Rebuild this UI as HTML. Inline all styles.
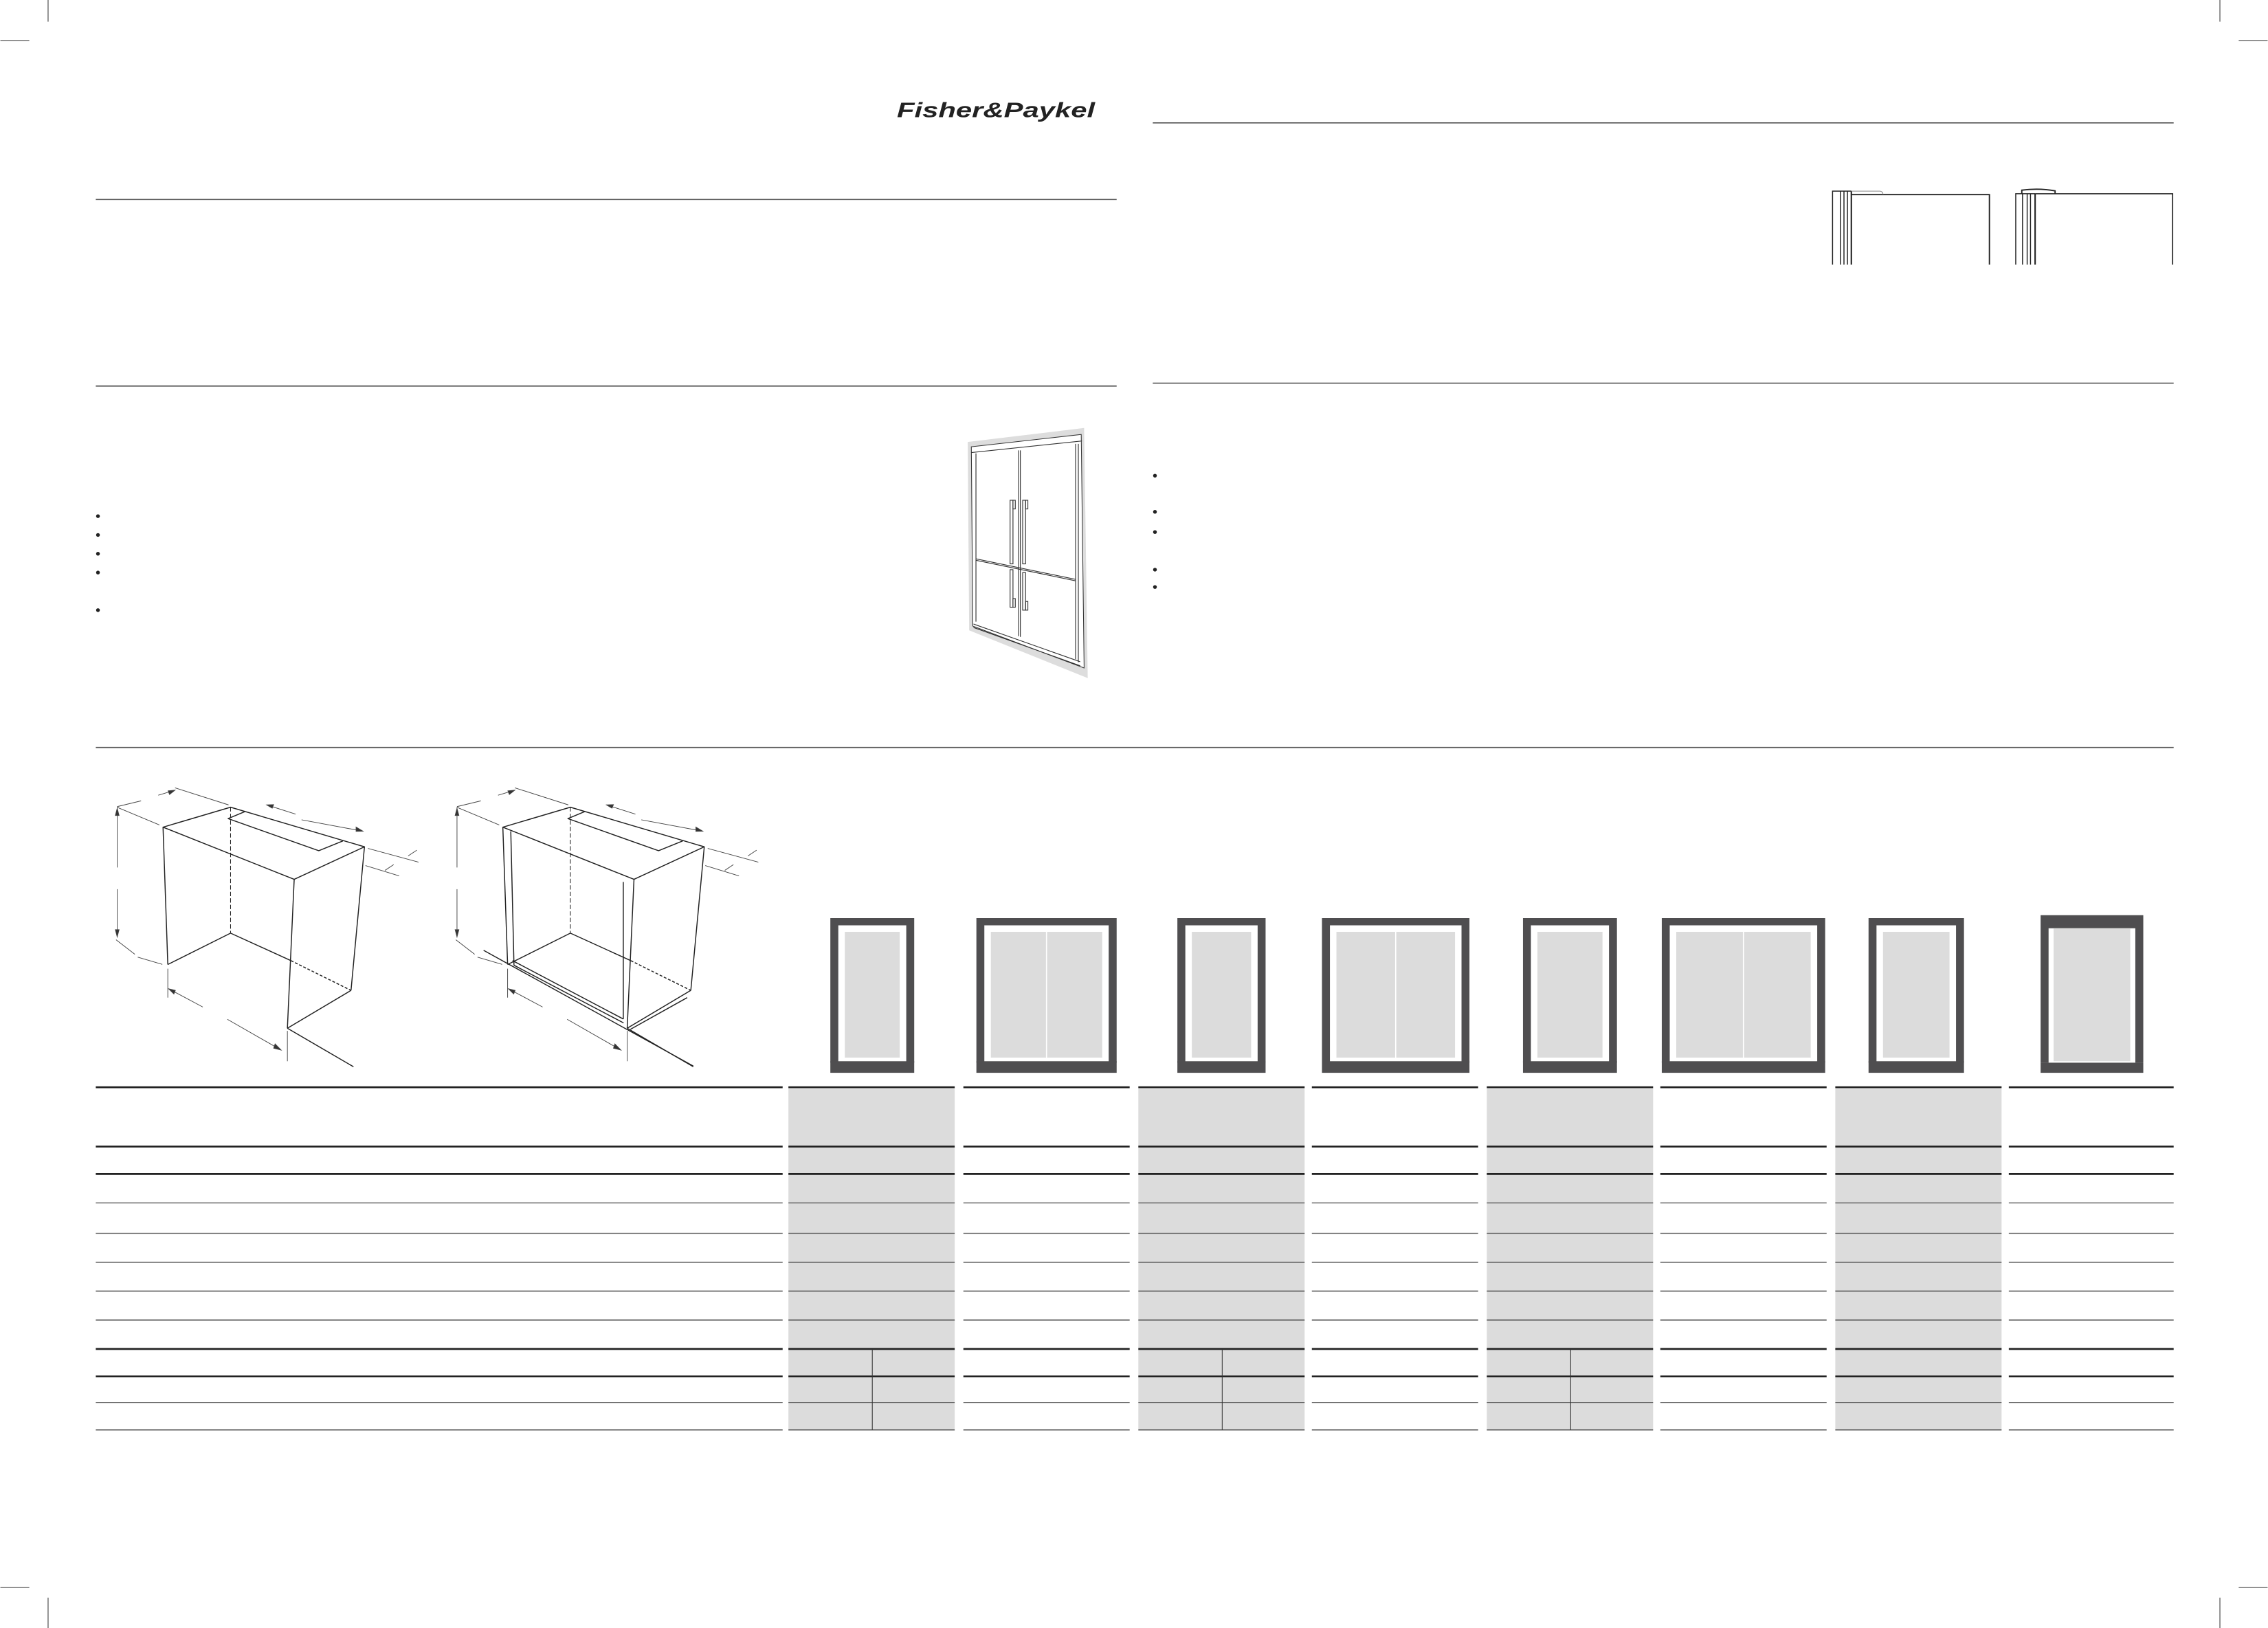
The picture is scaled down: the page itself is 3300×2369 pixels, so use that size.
<!DOCTYPE html>
<html><head><meta charset="utf-8"><style>html,body{margin:0;padding:0;background:#fff}svg{display:block}</style></head>
<body>
<svg width="3300" height="2369" viewBox="0 0 1568 1126" xmlns="http://www.w3.org/2000/svg">
<rect width="1568" height="1126" fill="#fff"/>
<!-- crop marks -->
<g stroke="#555" stroke-width="0.6">
<line x1="0" y1="28" x2="20" y2="28"/><line x1="33" y1="0" x2="33" y2="15"/>
<line x1="1548" y1="28" x2="1568" y2="28"/><line x1="1535" y1="0" x2="1535" y2="15"/>
<line x1="0" y1="1098" x2="20" y2="1098"/><line x1="33" y1="1105" x2="33" y2="1126"/>
<line x1="1548" y1="1098" x2="1568" y2="1098"/><line x1="1535" y1="1105" x2="1535" y2="1126"/>
</g>
<!-- logo -->
<text x="620" y="81" font-family="Liberation Sans, sans-serif" font-weight="bold" font-style="italic" font-size="14.5" textLength="137" lengthAdjust="spacingAndGlyphs" fill="#222">Fisher&amp;Paykel</text>
<!-- section rules -->
<g stroke="#555" stroke-width="0.8">
<line x1="797" y1="85" x2="1503" y2="85"/>
<line x1="66" y1="138" x2="772" y2="138"/>
<line x1="66" y1="267" x2="772" y2="267"/>
<line x1="797" y1="265" x2="1503" y2="265"/>
<line x1="66" y1="517" x2="1503" y2="517"/>
</g>
<!-- side views -->
<g stroke="#222" stroke-width="0.7" fill="none">
<path d="M1267.1,183 V132.2 H1280.1"/><line x1="1272.6" y1="132.2" x2="1272.6" y2="183"/><line x1="1275" y1="132.2" x2="1275" y2="183"/><line x1="1277.4" y1="132.2" x2="1277.4" y2="183"/><line x1="1280.1" y1="132.2" x2="1280.1" y2="183" stroke-width="1"/>
<path d="M1280.1,134.6 H1375.6 V183" stroke-width="0.9"/>
<path d="M1280.1,132.2 H1300 Q1302,132.5 1302,134.6" stroke="#888" stroke-width="0.5"/>
<path d="M1393.8,183 V134 H1407.2"/><line x1="1398.5" y1="134" x2="1398.5" y2="183"/><line x1="1401.7" y1="134" x2="1401.7" y2="183"/><line x1="1404" y1="134" x2="1404" y2="183"/><line x1="1407.2" y1="134" x2="1407.2" y2="183" stroke-width="1"/>
<path d="M1407.2,134 H1502.3 V183" stroke-width="0.8"/>
<path d="M1398,134 V131.5 Q1410,130 1421,132 L1421,134" stroke-width="0.9"/>
</g>
<!-- bullets -->
<g fill="#222">
<circle cx="67.5" cy="357" r="1.3"/><circle cx="67.5" cy="370" r="1.3"/><circle cx="67.5" cy="383" r="1.3"/><circle cx="67.5" cy="396" r="1.3"/><circle cx="67.5" cy="422" r="1.3"/>
<circle cx="798.5" cy="329" r="1.3"/><circle cx="798.5" cy="354" r="1.3"/><circle cx="798.5" cy="368" r="1.3"/><circle cx="798.5" cy="394" r="1.3"/><circle cx="798.5" cy="406" r="1.3"/>
</g>
<!-- fridge illustration -->
<polygon points="669,305.7 749.5,296 752,469 670,436" fill="#ddd"/>
<polygon points="671.5,309 747.5,300.5 749.5,462 672.5,433" fill="#fff" stroke="#333" stroke-width="0.5"/>
<g stroke="#333" stroke-width="0.55" fill="none">
<line x1="671.5" y1="313" x2="748" y2="305"/>
<line x1="674.7" y1="313.6" x2="674.7" y2="430"/>
<line x1="743.6" y1="307" x2="743.6" y2="456"/>
<line x1="745.5" y1="307" x2="745.5" y2="458"/>
<line x1="704.2" y1="311.5" x2="704.2" y2="440"/><line x1="705.4" y1="311.5" x2="705.4" y2="440.5"/>
<line x1="674.7" y1="386.5" x2="743.6" y2="400.7"/><line x1="674.7" y1="387.5" x2="743.6" y2="401.7"/>
<line x1="673" y1="431.6" x2="746.8" y2="457.7"/><line x1="673" y1="434" x2="746.8" y2="460.5"/>
<rect x="698.3" y="346" width="2" height="44" /><rect x="700.3" y="346" width="1.6" height="6"/>
<rect x="707" y="346" width="2" height="44"/><rect x="709" y="346" width="1.6" height="6"/>
<rect x="698.3" y="394" width="2" height="26"/><rect x="700.3" y="414" width="1.6" height="6"/>
<rect x="707" y="396" width="2" height="26"/><rect x="709" y="416" width="1.6" height="6"/>
</g>
<!-- cabinets -->
<g id="cab" stroke="#222" stroke-width="0.7" fill="none" stroke-linejoin="round">
<polygon points="112.5,572.1 159.2,558.3 251.8,585.7 203.2,608.2"/>
<polyline points="169.2,561.3 157.5,566.2 220.2,588.4 236.9,581.6"/>
<line x1="112.5" y1="572.1" x2="115.8" y2="667.1"/>
<line x1="159.2" y1="558.3" x2="159.2" y2="645.4" stroke-dasharray="3,1.5" stroke-width="0.5"/>
<line x1="159.2" y1="645.4" x2="115.8" y2="667.1"/>
<line x1="159.2" y1="645.4" x2="200.9" y2="664.4"/>
<line x1="200.9" y1="664.4" x2="242.5" y2="685" stroke-dasharray="2,1.2"/>
<line x1="203.2" y1="608.2" x2="198.5" y2="711.2"/>
<line x1="251.8" y1="585.7" x2="242.5" y2="685"/>
<line x1="242.5" y1="685" x2="198.5" y2="711.2"/>
<line x1="198.5" y1="711.2" x2="244.2" y2="737.8"/>
</g>
<g id="dims" stroke="#444" stroke-width="0.45" fill="#333">
<line x1="115.8" y1="670" x2="115.8" y2="690"/>
<line x1="198.5" y1="713" x2="198.5" y2="734"/>
<line x1="116.4" y1="683.9" x2="140" y2="696.5"/><line x1="157" y1="705" x2="194.2" y2="726.3"/>
<line x1="80.8" y1="559" x2="80.8" y2="600"/><line x1="80.8" y1="615" x2="80.8" y2="648"/>
<line x1="80.6" y1="558.3" x2="110" y2="570.6"/>
<line x1="80" y1="650" x2="93" y2="660"/><line x1="95" y1="662" x2="112" y2="667"/>
<line x1="80.8" y1="557.9" x2="97.3" y2="553.9"/>
<line x1="109.2" y1="550" x2="120.8" y2="546.5"/>
<line x1="120.8" y1="544.9" x2="157.8" y2="556.7"/>
<line x1="184.2" y1="556.7" x2="204.2" y2="563.1"/>
<line x1="208.3" y1="567" x2="250.8" y2="574.9"/>
<line x1="254.2" y1="586.8" x2="289.2" y2="596.3"/>
<line x1="252.5" y1="598.7" x2="275.8" y2="605.8"/>
<line x1="282" y1="592" x2="288" y2="588"/><line x1="266" y1="602" x2="272" y2="598"/>
<polygon points="80.8,559 79.5,564 82.1,564"/><polygon points="80.8,648 79.5,643 82.1,643"/>
<polygon points="116.4,683.9 120,687.5 121,685"/><polygon points="194.2,726.3 190,722 189,725"/>
<polygon points="120.8,546.5 116,547 117,549.5"/><polygon points="250.8,574.9 246,572 246,575"/>
<polygon points="184.2,556.7 189,556.5 188,559"/>
</g>
<use href="#cab" x="235"/>
<use href="#dims" x="235"/>
<g stroke="#222" stroke-width="0.7" fill="none">
<line x1="353" y1="575" x2="355.2" y2="667.6"/>
<line x1="430.8" y1="610" x2="430.8" y2="704.8"/>
<line x1="354.2" y1="664.4" x2="430.8" y2="704.8"/>
<line x1="355.2" y1="667.6" x2="431" y2="707.5"/>
<line x1="334.2" y1="657.3" x2="479.2" y2="737.3"/>
<line x1="435.8" y1="711.9" x2="475" y2="690"/>
</g>
<rect x="330" y="682" width="120" height="40" fill="#fff" opacity="0"/>
<!-- fridge icons -->
<g fill="#4f4e50">
<path d="M574,635H632V735H626.5V640H579.5V735H574Z"/><rect x="574" y="734" width="58" height="8"/>
<path d="M675,635H772V735H766.5V640H680.5V735H675Z"/><rect x="675" y="734" width="97" height="8"/>
<path d="M814,635H875V735H869.5V640H819.5V735H814Z"/><rect x="814" y="734" width="61" height="8"/>
<path d="M914,635H1016V735H1010.5V640H919.5V735H914Z"/><rect x="914" y="734" width="102" height="8"/>
<path d="M1053,635H1118V735H1112.5V640H1058.5V735H1053Z"/><rect x="1053" y="734" width="65" height="8"/>
<path d="M1149,635H1262V735H1256.5V640H1154.5V735H1149Z"/><rect x="1149" y="734" width="113" height="8"/>
<path d="M1292,635H1358V735H1352.5V640H1297.5V735H1292Z"/><rect x="1292" y="734" width="66" height="8"/>
<path d="M1411,633H1482V735H1476.5V642H1416.5V735H1411Z"/><rect x="1411" y="735" width="71" height="7"/>
</g>
<g fill="#dcdcdc">
<rect x="584" y="644.5" width="38" height="87"/>
<rect x="685" y="644.5" width="77" height="87"/>
<rect x="824" y="644.5" width="41" height="87"/>
<rect x="924" y="644.5" width="82" height="87"/>
<rect x="1063" y="644.5" width="45" height="87"/>
<rect x="1159" y="644.5" width="93" height="87"/>
<rect x="1302" y="644.5" width="46" height="87"/>
<rect x="1420" y="642" width="53" height="92"/>
</g>
<g stroke="#fff" stroke-width="0.8">
<line x1="723.5" y1="644" x2="723.5" y2="732"/>
<line x1="965" y1="644" x2="965" y2="732"/>
<line x1="1205.5" y1="644" x2="1205.5" y2="732"/>
</g>
<!-- table -->
<g fill="#dcdcdc">
<rect x="545" y="753" width="115" height="236"/>
<rect x="787" y="753" width="115" height="236"/>
<rect x="1028" y="753" width="115" height="236"/>
<rect x="1269" y="753" width="115" height="236"/>
</g>
<g id="rows" stroke="#222">
<g stroke-width="1.3">
<path d="M66,752H541M545,752H660M666,752H781M787,752H902M907,752H1022M1028,752H1143M1148,752H1263M1269,752H1384M1389,752H1503"/>
<path d="M66,793H541M545,793H660M666,793H781M787,793H902M907,793H1022M1028,793H1143M1148,793H1263M1269,793H1384M1389,793H1503"/>
<path d="M66,812H541M545,812H660M666,812H781M787,812H902M907,812H1022M1028,812H1143M1148,812H1263M1269,812H1384M1389,812H1503"/>
<path d="M66,933H541M545,933H660M666,933H781M787,933H902M907,933H1022M1028,933H1143M1148,933H1263M1269,933H1384M1389,933H1503"/>
<path d="M66,952H541M545,952H660M666,952H781M787,952H902M907,952H1022M1028,952H1143M1148,952H1263M1269,952H1384M1389,952H1503"/>
</g>
<g stroke-width="0.7" stroke="#555">
<path d="M66,832H541M545,832H660M666,832H781M787,832H902M907,832H1022M1028,832H1143M1148,832H1263M1269,832H1384M1389,832H1503"/>
<path d="M66,853H541M545,853H660M666,853H781M787,853H902M907,853H1022M1028,853H1143M1148,853H1263M1269,853H1384M1389,853H1503"/>
<path d="M66,873H541M545,873H660M666,873H781M787,873H902M907,873H1022M1028,873H1143M1148,873H1263M1269,873H1384M1389,873H1503"/>
<path d="M66,893H541M545,893H660M666,893H781M787,893H902M907,893H1022M1028,893H1143M1148,893H1263M1269,893H1384M1389,893H1503"/>
<path d="M66,913H541M545,913H660M666,913H781M787,913H902M907,913H1022M1028,913H1143M1148,913H1263M1269,913H1384M1389,913H1503"/>
<path d="M66,970H541M545,970H660M666,970H781M787,970H902M907,970H1022M1028,970H1143M1148,970H1263M1269,970H1384M1389,970H1503"/>
<path d="M66,989H541M545,989H660M666,989H781M787,989H902M907,989H1022M1028,989H1143M1148,989H1263M1269,989H1384M1389,989H1503"/>
</g>
<g stroke-width="0.5" stroke="#333">
<line x1="603" y1="933" x2="603" y2="989"/>
<line x1="845" y1="933" x2="845" y2="989"/>
<line x1="1086" y1="933" x2="1086" y2="989"/>
</g>
</g>
</svg>
</body></html>
